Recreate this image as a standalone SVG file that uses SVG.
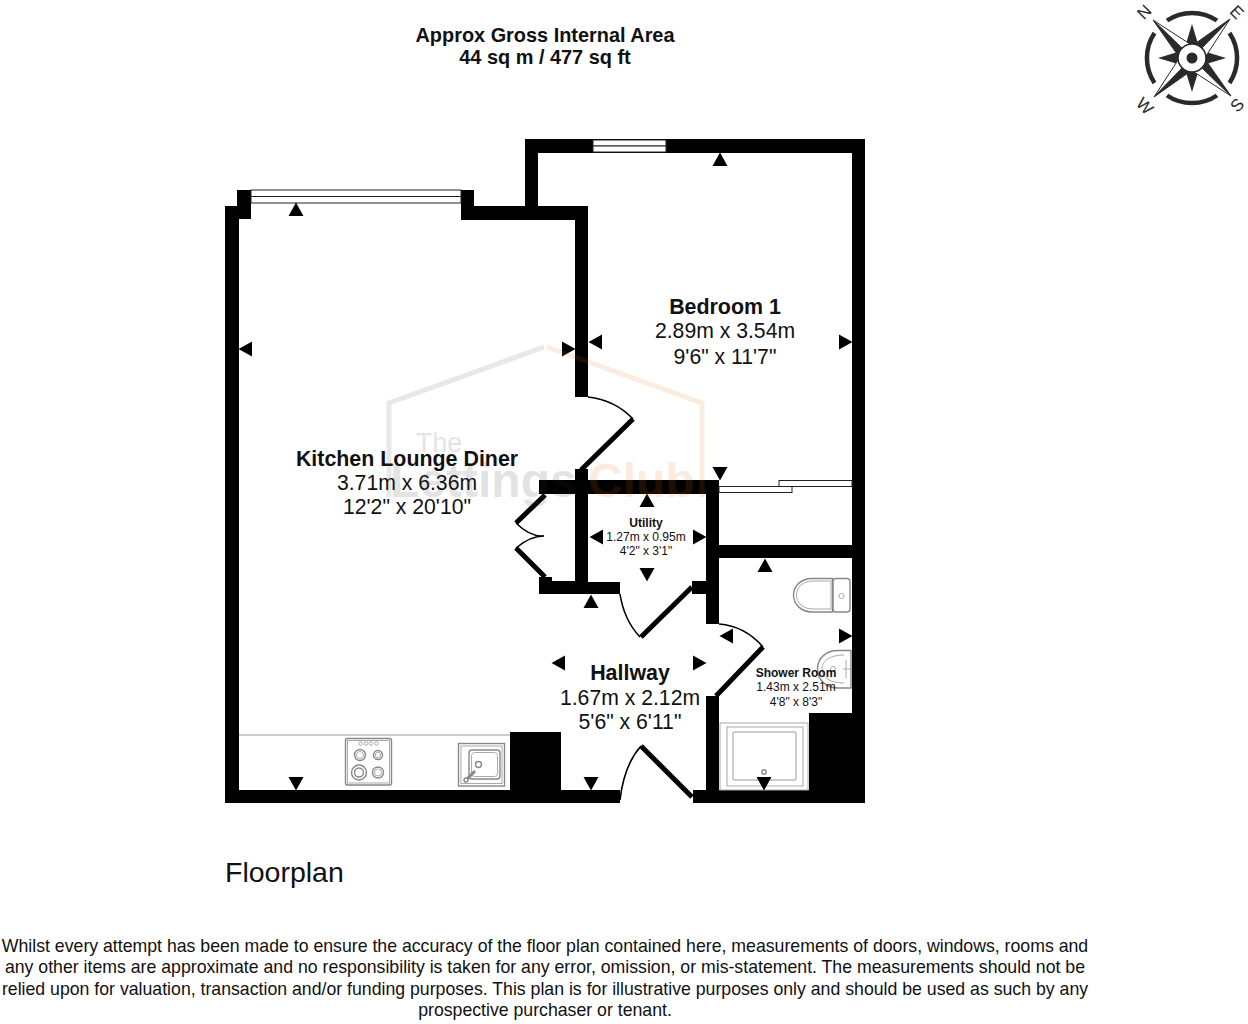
<svg xmlns="http://www.w3.org/2000/svg" width="1248" height="1024" viewBox="0 0 1248 1024">
<style>
text{font-family:"Liberation Sans",Arial,sans-serif;fill:#111;text-anchor:middle}
.b{font-weight:bold}
.r{font-size:21.2px}
.rb{font-size:21.4px;font-weight:bold}
.s{font-size:12px}
.t{font-size:19.9px;font-weight:bold}
.d{font-size:17.7px}
.wall{fill:#000}
.leaf{stroke:#000;stroke-width:5;fill:none}
.arc{stroke:#000;stroke-width:1.6;fill:none}
.win{fill:#fff;stroke:#222;stroke-width:1}
.fit{fill:none;stroke:#aaa;stroke-width:1}
.fit2{fill:none;stroke:#888;stroke-width:1.4}
.cm{fill:#2a2a2a}
.cl{font-size:17px;fill:#2a2a2a}
</style>
<defs>
<path id="u" d="M-7.500 0H7.500L0-13.500Z"/>
<path id="dn" d="M-7.500 0H7.500L0 13.500Z"/>
<path id="l" d="M0-7.500V7.500L-13.500 0Z"/>
<path id="rt" d="M0-7.500V7.500L13.500 0Z"/>
<g id="arm">
<path d="M-39-38L-2-14L0 0Z" fill="#fff" stroke="#2a2a2a" stroke-width="1"/>
<path d="M-39-38L-15-4L0 0Z" fill="#2a2a2a" stroke="#2a2a2a" stroke-width="1"/>
</g>
</defs>
<rect width="1248" height="1024" fill="#fff"/>
<g id="walls" class="wall">
<path d="M225 206H237V190H251V219H239V790H510V732H561V790H620V803H225Z"/>
<path d="M461 190H474V206H525V139H865V803H693V790H809V713H852V558H719V624H706V594H692V581H706V494H588V582H620V594H539V581H575V494H539V480H575V469H588V480H719V545H852V153H538V206H588V397H575V220H461Z"/>
<rect x="706" y="696" width="13" height="107"/>
<rect x="539" y="577" width="13" height="6"/>
</g>
<g id="windows">
<rect class="win" x="251" y="190" width="210" height="6.5"/>
<rect class="win" x="251" y="196.500" width="210" height="6.500"/>
<rect class="win" x="593" y="140" width="73" height="6"/>
<rect class="win" x="593" y="146" width="73" height="6"/>
</g>
<g id="doors">
<path class="leaf" d="M581 470L633 419M692 587L641 637M716 696L763 647M692 797L641 746M545 495L516 523M516 548L545 577"/>
<path class="arc" d="M588 397Q615 400 633 419M620 594Q624 620 640 637M719 624Q745 626 763 647M620 800Q624 765 641 746M516 523Q530 537 544 536Q530 536 516 548"/>
<rect class="win" x="719" y="486.500" width="73" height="6"/>
<rect class="win" x="779" y="480.500" width="73" height="6"/>
</g>
<g id="fixtures">
<path d="M239 735H510" stroke="#999" stroke-width="1.200" fill="none"/>
<g id="hob">
<rect class="fit2" x="345.500" y="738.500" width="46" height="46.500" rx="2"/>
<rect class="fit" x="347.500" y="740.500" width="42" height="42.500"/>
<circle class="fit2" cx="360" cy="755" r="5.500"/><circle class="fit" cx="360" cy="755" r="3.500"/>
<circle class="fit2" cx="378" cy="755" r="4.500"/><circle class="fit" cx="378" cy="755" r="2.800"/>
<circle class="fit2" cx="359" cy="772.500" r="7.500"/><circle class="fit2" cx="359" cy="772.500" r="4.500"/>
<circle class="fit2" cx="378" cy="772.500" r="5.500"/><circle class="fit" cx="378" cy="772.500" r="3.500"/>
<circle class="fit" cx="360.500" cy="743.500" r="1.800"/><circle class="fit" cx="366" cy="743.500" r="1.800"/><circle class="fit" cx="371" cy="743.500" r="1.800"/><circle class="fit" cx="376.500" cy="743.500" r="1.800"/>
</g>
<g id="sink">
<rect class="fit2" x="458.500" y="743.500" width="46" height="42.500"/>
<rect class="fit" x="461" y="746" width="41" height="37.500"/>
<rect class="fit2" x="469" y="750" width="31" height="29" rx="3"/>
<rect class="fit" x="471.500" y="752.500" width="26" height="24" rx="3"/>
<circle class="fit2" cx="478.500" cy="764.500" r="3"/>
<path d="M467 779L475 771" stroke="#888" stroke-width="3" fill="none"/>
<circle class="fit2" cx="466" cy="780" r="2"/>
</g>
<g id="toilet">
<path class="fit2" d="M832.500 578.500H812C801 578.500 793.500 586 793.500 595S801 612 812 612H832.500Z"/>
<path class="fit" d="M831 581H813C803 581 796.500 587 796.500 595S803 609 813 609H831Z"/>
<rect class="fit2" x="833" y="578.500" width="17" height="33.500" rx="3"/>
<circle class="fit" cx="841.500" cy="596" r="2.500"/>
</g>
<g id="basin">
<path class="fit2" d="M851 650.500H838C826 650.500 817.500 658 817.500 669S826 688 838 688H851Z"/>
<path class="fit" d="M844 655C831 655 822 660 822 669S831 683 844 683"/>
<circle class="fit" cx="833" cy="669" r="2.500"/>
<path class="fit" d="M843 669H850M846 660V678"/>
</g>
<g id="shower">
<rect class="fit" x="720" y="723" width="88" height="67"/>
<rect class="fit" x="727" y="727" width="76" height="59"/>
<rect x="733" y="732" width="63" height="48" rx="2" fill="none" stroke="#bbb" stroke-width="1.500"/>
<circle class="fit2" cx="764" cy="772" r="2.200"/>
</g>
</g>
<g id="arrows" fill="#000">
<use href="#u" x="296" y="216"/><use href="#u" x="720" y="166"/><use href="#u" x="647" y="507"/><use href="#u" x="765" y="572"/><use href="#u" x="591" y="608"/>
<use href="#dn" x="296" y="777"/><use href="#dn" x="591" y="777"/><use href="#dn" x="720" y="467"/><use href="#dn" x="647" y="568"/><use href="#dn" x="764" y="777"/>
<use href="#l" x="252" y="349"/><use href="#l" x="602" y="342"/><use href="#l" x="603" y="537"/><use href="#l" x="733" y="636"/><use href="#l" x="565" y="663"/>
<use href="#rt" x="562" y="349"/><use href="#rt" x="839" y="342"/><use href="#rt" x="693" y="537"/><use href="#rt" x="839" y="636"/><use href="#rt" x="693" y="663"/>
</g>
<g id="labels">
<text class="t" x="545" y="42">Approx Gross Internal Area</text>
<text class="t" x="545" y="64">44 sq m / 477 sq ft</text>
<text class="rb" x="725" y="314">Bedroom 1</text>
<text class="r" x="725" y="338">2.89m x 3.54m</text>
<text class="r" x="725" y="364">9'6" x 11'7"</text>
<text class="rb" x="407" y="466">Kitchen Lounge Diner</text>
<text class="r" x="407" y="490">3.71m x 6.36m</text>
<text class="r" x="407" y="514">12'2" x 20'10"</text>
<text class="rb" x="630" y="680">Hallway</text>
<text class="r" x="630" y="705">1.67m x 2.12m</text>
<text class="r" x="630" y="729">5'6" x 6'11"</text>
<text class="s b" x="646" y="527">Utility</text>
<text class="s" x="646" y="541">1.27m x 0.95m</text>
<text class="s" x="646" y="555">4'2" x 3'1"</text>
<text class="s b" x="796" y="677">Shower Room</text>
<text class="s" x="796" y="691">1.43m x 2.51m</text>
<text class="s" x="796" y="706">4'8" x 8'3"</text>
<text x="225" y="882" font-size="28.500" style="text-anchor:start">Floorplan</text>
<text class="d" x="545" y="952">Whilst every attempt has been made to ensure the accuracy of the floor plan contained here, measurements of doors, windows, rooms and</text>
<text class="d" x="545" y="973">any other items are approximate and no responsibility is taken for any error, omission, or mis-statement. The measurements should not be</text>
<text class="d" x="545" y="995">relied upon for valuation, transaction and/or funding purposes. This plan is for illustrative purposes only and should be used as such by any</text>
<text class="d" x="545" y="1016">prospective purchaser or tenant.</text>
</g>
<g id="compass">
<g fill="none" stroke="#2a2a2a" stroke-width="4.500">
<path d="M1167 20.500A45 45 0 0 1 1217 20.500"/>
<path d="M1229.500 33A45 45 0 0 1 1229.500 83"/>
<path d="M1217 95.500A45 45 0 0 1 1167 95.500"/>
<path d="M1154.500 83A45 45 0 0 1 1154.500 33"/>
</g>
<path class="cm" d="M1192 24L1199 47H1185Z M1192 92L1199 69H1185Z M1158 58L1181 51V65Z M1226 58L1203 51V65Z"/>
<g transform="translate(1192 58)">
<use href="#arm"/>
<use href="#arm" transform="rotate(90)"/>
<use href="#arm" transform="rotate(180)"/>
<use href="#arm" transform="rotate(270)"/>
</g>
<circle cx="1192" cy="58" r="14" fill="#fff" stroke="#2a2a2a" stroke-width="1.500"/>
<circle cx="1192" cy="58" r="5.500" class="cm"/>
<text class="cl" transform="translate(1144 12) rotate(-45)" y="6">N</text>
<text class="cl" transform="translate(1237 12) rotate(45)" y="6">E</text>
<text class="cl" transform="translate(1237 105) rotate(-45)" y="6">S</text>
<text class="cl" transform="translate(1145 106) rotate(45)" y="6">W</text>
</g>
<g id="watermark" opacity="0.13" fill="none" stroke-width="5">
<path d="M389 497V403L544 347" stroke="#555"/>
<path d="M547 347L702 403V497" stroke="#e8701a"/>
<text x="439" y="452" font-size="27" stroke="none" style="fill:#333">The</text>
<text x="390" y="497" font-size="48" stroke="none" font-weight="bold" style="fill:#333;text-anchor:start">Lettings</text>
<text x="588" y="497" font-size="48" stroke="none" font-weight="bold" style="fill:#e8701a;text-anchor:start">Club</text>
</g>
</svg>
